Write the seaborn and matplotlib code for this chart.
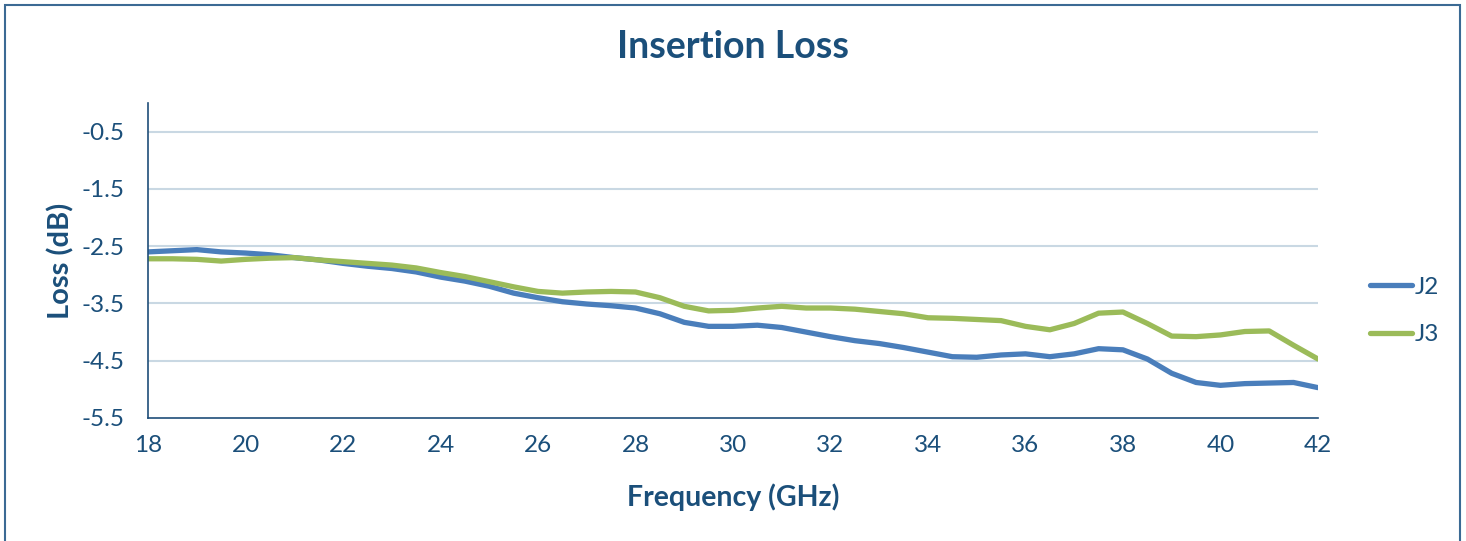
import numpy as np
import pandas as pd
import matplotlib
matplotlib.use("Agg")
import matplotlib.pyplot as plt
import seaborn as sns
from matplotlib.patches import Rectangle
from matplotlib.lines import Line2D

# ---- data ----
freq_ghz = [18.0, 18.5, 19.0, 19.5, 20.0, 20.5, 21.0, 21.5, 22.0, 22.5,
            23.0, 23.5, 24.0, 24.5, 25.0, 25.5, 26.0, 26.5, 27.0, 27.5,
            28.0, 28.5, 29.0, 29.5, 30.0, 30.5, 31.0, 31.5, 32.0, 32.5,
            33.0, 33.5, 34.0, 34.5, 35.0, 35.5, 36.0, 36.5, 37.0, 37.5,
            38.0, 38.5, 39.0, 39.5, 40.0, 40.5, 41.0, 41.5, 42.0]
j2_loss = [-2.60, -2.58, -2.56, -2.60, -2.62, -2.65, -2.70, -2.74, -2.80, -2.85,
           -2.89, -2.95, -3.04, -3.11, -3.20, -3.32, -3.40, -3.47, -3.51, -3.54,
           -3.58, -3.68, -3.83, -3.90, -3.90, -3.88, -3.92, -4.00, -4.08, -4.15,
           -4.20, -4.27, -4.35, -4.43, -4.44, -4.40, -4.38, -4.43, -4.38, -4.29,
           -4.31, -4.47, -4.72, -4.88, -4.93, -4.90, -4.89, -4.88, -4.97]
j3_loss = [-2.72, -2.72, -2.73, -2.76, -2.73, -2.71, -2.70, -2.74, -2.77, -2.80,
           -2.83, -2.88, -2.96, -3.03, -3.12, -3.21, -3.29, -3.32, -3.30, -3.29,
           -3.30, -3.40, -3.55, -3.63, -3.62, -3.58, -3.55, -3.58, -3.58, -3.60,
           -3.64, -3.68, -3.75, -3.76, -3.78, -3.80, -3.90, -3.96, -3.85, -3.67,
           -3.65, -3.85, -4.07, -4.08, -4.05, -3.99, -3.98, -4.23, -4.47]
series_names = ["J2", "J3"]
y_ticks = [-0.5, -1.5, -2.5, -3.5, -4.5, -5.5]
x_ticks = [18, 20, 22, 24, 26, 28, 30, 32, 34, 36, 38, 40, 42]

df = pd.concat([
    pd.DataFrame({"Frequency": freq_ghz, "Loss": j2_loss, "Series": series_names[0]}),
    pd.DataFrame({"Frequency": freq_ghz, "Loss": j3_loss, "Series": series_names[1]}),
])

# ---- style ----
sns.set_theme(style="white")
plt.rcParams["font.family"] = ["Lato", "DejaVu Sans"]
text_color = "#1b4f7a"
axis_color = "#1f4e79"
grid_color = "#c9d8e3"
palette = {"J2": "#4a7ebb", "J3": "#9bbb59"}

fig = plt.figure(figsize=(14.66, 5.41), dpi=100)
ax = fig.add_axes([0.101, 0.2274, 0.798, 0.5822])

sns.lineplot(data=df, x="Frequency", y="Loss", hue="Series", palette=palette,
             linewidth=3.8, ax=ax, legend=False)

ax.set_xlim(18, 42)
ax.set_ylim(-5.5, 0)
ax.set_xticks(x_ticks)
ax.set_yticks(y_ticks)
ax.set_yticklabels([f"{v:.1f}" for v in y_ticks])
ax.tick_params(axis="both", length=0, labelsize=17.5, colors=text_color)
ax.tick_params(axis="x", pad=12)
ax.tick_params(axis="y", pad=17)
for v in y_ticks[:-1]:
    ax.axhline(v, color=grid_color, linewidth=1.5, zorder=0)

for s in ["top", "right"]:
    ax.spines[s].set_visible(False)
ax.spines["left"].set_color(axis_color)
ax.spines["bottom"].set_color(axis_color)
ax.spines["left"].set_linewidth(1.2)
ax.spines["bottom"].set_linewidth(1.2)

ax.set_xlabel("Frequency (GHz)", fontsize=20.5, fontweight="bold", color=text_color, labelpad=20)
ax.set_ylabel("Loss (dB)", fontsize=21, fontweight="bold", color=text_color, labelpad=5)

fig.suptitle("Insertion Loss", x=0.5, y=0.945, fontsize=27, fontweight="bold", color=text_color)

handles = [Line2D([0], [0], color=palette[n], linewidth=3.8) for n in series_names]
fig.legend(handles, series_names, loc="center left", bbox_to_anchor=(0.9195, 0.425),
           frameon=False, fontsize=17.5, labelcolor=text_color, handlelength=1.75,
           handletextpad=0.1, labelspacing=1.1)

fig.patches.append(Rectangle((0.0034, -0.05), 0.9925, 1.041, transform=fig.transFigure,
                             fill=False, edgecolor="#3b6a94", linewidth=1.5, clip_on=False))

fig.savefig("out.png", dpi=100)
